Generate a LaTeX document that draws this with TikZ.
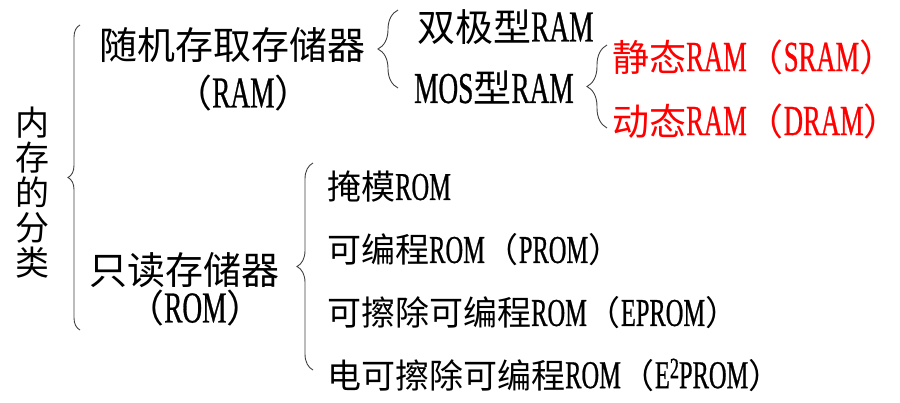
\documentclass[tikz,border=0pt]{standalone}
\usepackage{fontspec}
\setmainfont{Noto Sans CJK SC}
\newfontfamily\la[FakeStretch=0.62,Scale=1.16,FakeBold=0.6]{Liberation Serif}
\usetikzlibrary{decorations.pathreplacing}
\begin{document}
\begin{tikzpicture}[x=1pt,y=-1pt,
  txt/.style={anchor=west,inner sep=0pt,text=black},
  big/.style={font=\fontsize{38}{40}\selectfont},
  mid/.style={font=\fontsize{37}{40}\selectfont},
  sml/.style={font=\fontsize{34}{36}\selectfont},
  redtxt/.style={text=red},
  br/.style={draw=black!75,line width=0.9pt,decorate,decoration={brace,amplitude=#1}}]
\useasboundingbox (0,0) rectangle (900,403);
% vertical title
\node[inner sep=0pt,align=center,font=\fontsize{34}{35}\selectfont] (title) at (33,193) {内\\存\\的\\分\\类};
% level 1
\node[txt,big] (ram) at (99,45) {随机存取存储器};
\node[txt,big] (ramab) at (174,93) {（{\la RAM}）};
\node[txt,big] (rom) at (89,270) {只读存储器};
\node[txt,big] (romab) at (126,308) {（{\la ROM}）};
% level 2 RAM
\node[txt,big] (bip) at (417,27) {双极型{\la RAM}};
\node[txt,big] (mos) at (414,88) {{\la MOS}型{\la RAM}};
% level 3
\node[txt,mid,redtxt] (sram) at (612,57) {静态{\la RAM}（{\la SRAM}）};
\node[txt,mid,redtxt] (dram) at (612,121) {动态{\la RAM}（{\la DRAM}）};
% level 2 ROM
\node[txt,sml] (mask) at (327,187) {掩模{\la ROM}};
\node[txt,sml] (prom) at (327,250) {可编程{\la ROM}（{\la PROM}）};
\node[txt,sml] (eprom) at (327,313) {可擦除可编程{\la ROM}（{\la EPROM}）};
\node[txt,sml] (eeprom) at (327,375) {电可擦除可编程{\la ROM}（{\la E\raisebox{0.55ex}{\scalebox{0.75}{2}}PROM}）};
% braces
\coordinate (b1a) at (80,330); \coordinate (b1b) at (80,25);
\coordinate (b2a) at (398,88); \coordinate (b2b) at (398,10);
\coordinate (b3a) at (607,128); \coordinate (b3b) at (607,45);
\coordinate (b4a) at (313,370); \coordinate (b4b) at (313,163);
\draw[br=12] (b1a) -- (b1b);
\draw[br=20] (b2a) -- (b2b);
\draw[br=20] (b3a) -- (b3b);
\draw[br=16] (b4a) -- (b4b);
\end{tikzpicture}
\end{document}
